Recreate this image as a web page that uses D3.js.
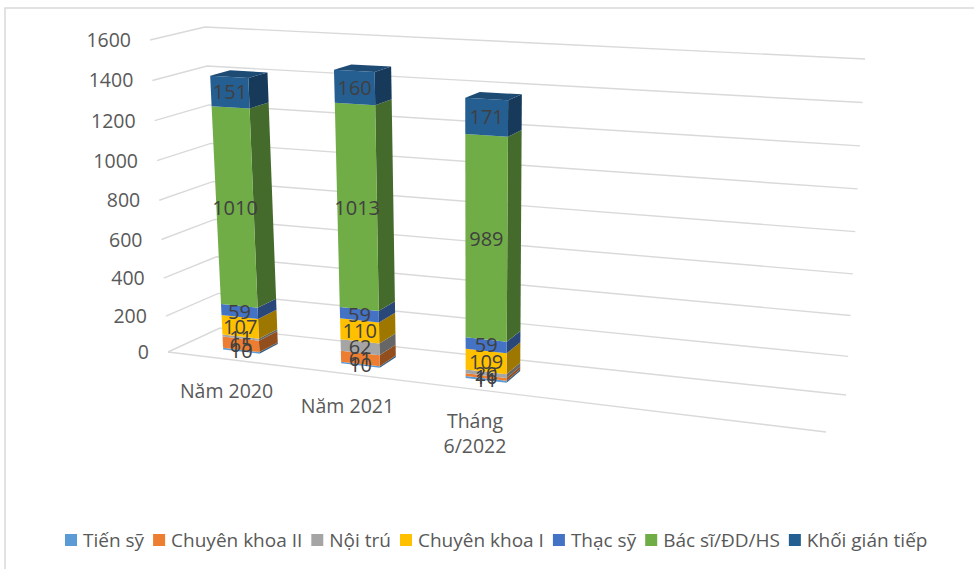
<!DOCTYPE html>
<html>
<head>
<meta charset="utf-8">
<script src="https://cdn.jsdelivr.net/npm/d3@7/dist/d3.min.js"></script>
<style>
html,body{margin:0;padding:0;background:#fff}
svg{display:block}
text{font-family:"Open Sans",sans-serif}
</style>
</head>
<body>
<svg id="chart" width="974" height="569"></svg>
<script>
const categories = [["Năm 2020"], ["Năm 2021"], ["Tháng", "6/2022"]];
const seriesNames = ["Tiến sỹ", "Chuyên khoa II", "Nội trú", "Chuyên khoa I", "Thạc sỹ", "Bác sĩ/ĐD/HS", "Khối gián tiếp"];
const seriesColors = ["#5B9BD5", "#ED7D31", "#A5A5A5", "#FFC000", "#4472C4", "#70AD47", "#255E91"];
const tienSy = [10, 10, 11];
const chuyenKhoa2 = [65, 61, 16];
const noiTru = [11, 62, 20];
const chuyenKhoa1 = [107, 110, 109];
const thacSy = [59, 59, 59];
const bacSi = [1010, 1013, 989];
const khoiGianTiep = [151, 160, 171];
const tickValues = [0, 200, 400, 600, 800, 1000, 1200, 1400, 1600];

const seriesValues = [tienSy, chuyenKhoa2, noiTru, chuyenKhoa1, thacSy, bacSi, khoiGianTiep];
const svg = d3.select("#chart");

// Corners of the 3D plot box: floor plane and the plane at the axis maximum.
const floor = {fl: [168, 352], fr: [826, 432], bl: [220, 328], br: [846, 395]};
const ceil = {fl: [150, 40], fr: [848, 72], bl: [205, 27], br: [865, 59]};

const heightScale = d3.scalePow().exponent(1.04).domain([0, 1600]).range([0, 1]);
// Column slots and widths grow slightly to the right because of the perspective
const slotScale = d3.scaleLinear().domain([0, 1, 2]).range([0.061, 0.243, 0.435]);
const widthScale = d3.scaleLinear().domain([0, 2]).range([0.056, 0.063]);
const barDepth = [0.3, 0.68];

const mix = (a, b, t) => [a[0] + (b[0] - a[0]) * t, a[1] + (b[1] - a[1]) * t];
function planePoint(p, u, d) {
  return mix(mix(p.fl, p.fr, u), mix(p.bl, p.br, u), d);
}
function project(u, v, d) {
  return mix(planePoint(floor, u, d), planePoint(ceil, u, d), heightScale(v));
}
const polygon = pts => "M" + pts.map(p => p[0].toFixed(2) + "," + p[1].toFixed(2)).join("L") + "Z";
const shade = (c, k) => {
  const o = d3.rgb(c);
  return d3.rgb(o.r * k, o.g * k, o.b * k).formatHex();
};

// Frame around the chart area
svg.append("path").attr("d", "M5,569V8H974").attr("fill", "none").attr("stroke", "#d9d9d9").attr("stroke-width", 1.5);

// Gridlines run along the left wall, then along the back wall
const grid = svg.append("g").attr("fill", "none").attr("stroke", "#d9d9d9").attr("stroke-width", 1.4);
tickValues.forEach(v => {
  grid.append("path").attr("d", d3.line()([project(0, v, 0), project(0, v, 1), project(1, v, 1)]));
});
grid.append("path").attr("d", d3.line()([project(0, 0, 0), project(1, 0, 0)]));

// Value axis labels
svg.append("g").selectAll("text").data(tickValues).join("text")
  .attr("x", v => project(0, v, 0)[0] - 19)
  .attr("y", v => project(0, v, 0)[1])
  .attr("dy", "0.36em")
  .attr("text-anchor", "end")
  .attr("font-size", 19.5)
  .attr("fill", "#595959")
  .text(d => d);

// Stacked 3D columns
const stacked = d3.stack().keys(d3.range(seriesNames.length)).value((row, k) => row[k])(
  categories.map((c, i) => seriesValues.map(s => s[i]))
);
const barsLayer = svg.append("g");
const labelItems = [];
categories.forEach((cat, i) => {
  const u0 = slotScale(i), u1 = u0 + widthScale(i);
  const [d0, d1] = barDepth;
  stacked.forEach((layer, k) => {
    const [lo, hi] = layer[i];
    const color = seriesColors[k];
    barsLayer.append("path")
      .attr("d", polygon([project(u1, lo, d0), project(u1, lo, d1), project(u1, hi, d1), project(u1, hi, d0)]))
      .attr("fill", shade(color, 0.62));
    barsLayer.append("path")
      .attr("d", polygon([project(u0, lo, d0), project(u1, lo, d0), project(u1, hi, d0), project(u0, hi, d0)]))
      .attr("fill", color);
    if (k === stacked.length - 1) {
      barsLayer.append("path")
        .attr("d", polygon([project(u0, hi, d0), project(u1, hi, d0), project(u1, hi, d1), project(u0, hi, d1)]))
        .attr("fill", shade(color, 0.8));
    }
    const center = project((u0 + u1) / 2, (lo + hi) / 2, d0);
    labelItems.push({x: center[0], y: center[1], text: hi - lo});
  });
});

// Data labels sit on the front faces
svg.append("g").selectAll("text").data(labelItems).join("text")
  .attr("x", d => d.x)
  .attr("y", d => d.y)
  .attr("dy", "0.36em")
  .attr("text-anchor", "middle")
  .attr("font-size", 20)
  .attr("fill", "#404040")
  .text(d => d.text);

// Category labels follow the front edge of the floor
categories.forEach((lines, i) => {
  const base = project(slotScale(i) + widthScale(i) / 2, 0, 0);
  const t = svg.append("text")
    .attr("text-anchor", "middle")
    .attr("font-size", 19.5)
    .attr("fill", "#595959");
  lines.forEach((line, j) => {
    t.append("tspan").attr("x", base[0]).attr("y", base[1] + 32 + j * 25).attr("dy", "0.36em").text(line);
  });
});

// Legend laid out left to right from measured text widths
let legendX = 65;
const legendY = 540;
seriesNames.forEach((name, k) => {
  svg.append("rect").attr("x", legendX).attr("y", legendY - 6).attr("width", 12).attr("height", 12).attr("fill", seriesColors[k]);
  const label = svg.append("text")
    .attr("x", legendX + 18).attr("y", legendY).attr("dy", "0.36em")
    .attr("font-size", 19).attr("fill", "#595959").text(name);
  legendX += 18 + label.node().getComputedTextLength() + 9;
});
</script>
</body>
</html>
